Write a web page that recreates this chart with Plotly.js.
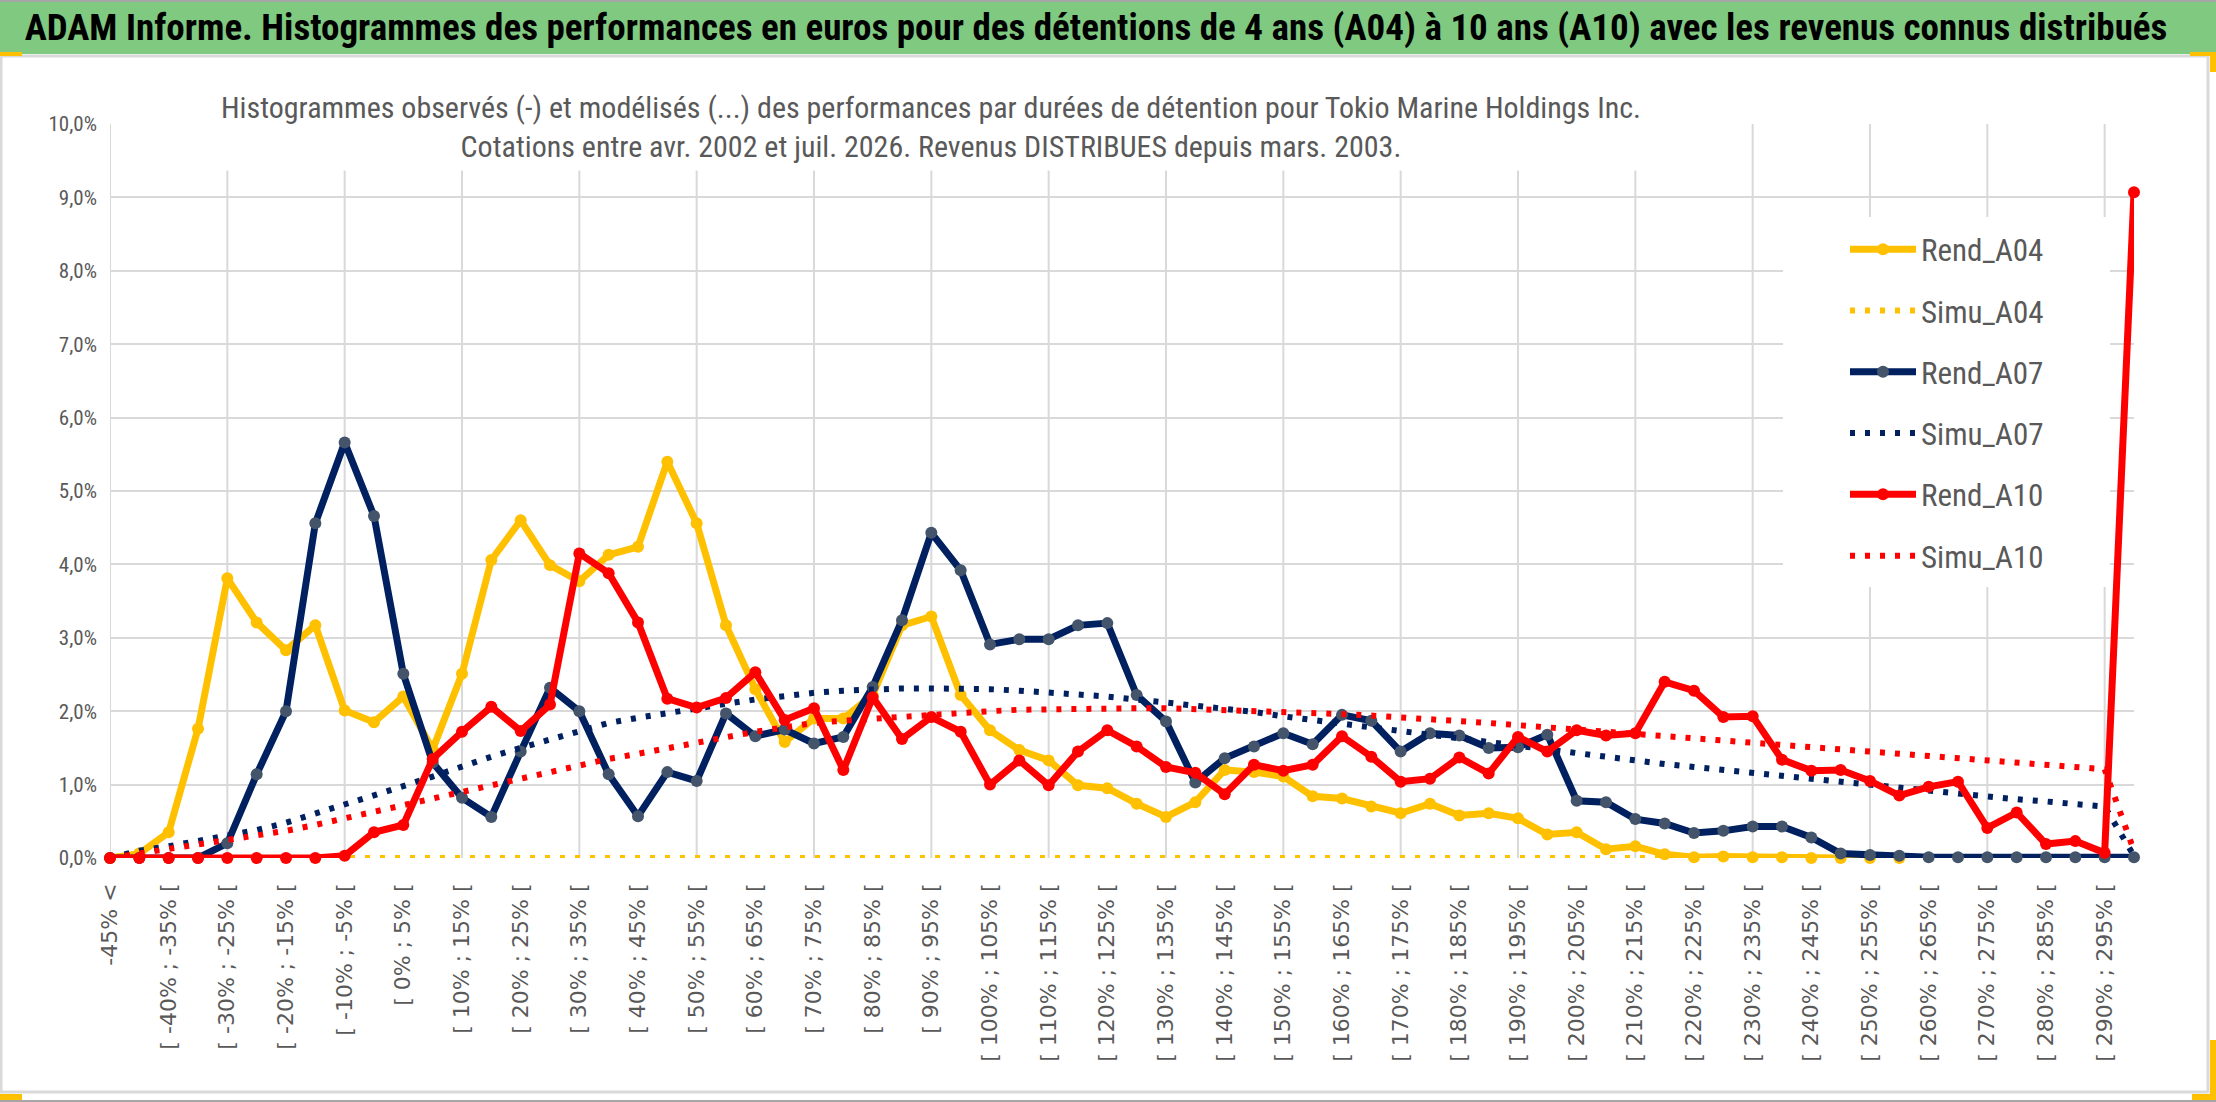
<!DOCTYPE html>
<html>
<head>
<meta charset="utf-8">
<script src="https://cdn.plot.ly/plotly-3.0.1.min.js"></script>
<style>
  html, body { margin: 0; padding: 0; background: #ffffff; }
</style>
</head>
<body>
<div id="plot"></div>
<script>
// Categories: performance bins (5% steps)
var categories = [
  "-45% <", "[ -45% ; -40% [", "[ -40% ; -35% [", "[ -35% ; -30% [", "[ -30% ; -25% [",
  "[ -25% ; -20% [", "[ -20% ; -15% [", "[ -15% ; -10% [", "[ -10% ; -5% [", "[ -5% ; 0% [",
  "[ 0% ; 5% [", "[ 5% ; 10% [", "[ 10% ; 15% [", "[ 15% ; 20% [", "[ 20% ; 25% [",
  "[ 25% ; 30% [", "[ 30% ; 35% [", "[ 35% ; 40% [", "[ 40% ; 45% [", "[ 45% ; 50% [",
  "[ 50% ; 55% [", "[ 55% ; 60% [", "[ 60% ; 65% [", "[ 65% ; 70% [", "[ 70% ; 75% [",
  "[ 75% ; 80% [", "[ 80% ; 85% [", "[ 85% ; 90% [", "[ 90% ; 95% [", "[ 95% ; 100% [",
  "[ 100% ; 105% [", "[ 105% ; 110% [", "[ 110% ; 115% [", "[ 115% ; 120% [", "[ 120% ; 125% [",
  "[ 125% ; 130% [", "[ 130% ; 135% [", "[ 135% ; 140% [", "[ 140% ; 145% [", "[ 145% ; 150% [",
  "[ 150% ; 155% [", "[ 155% ; 160% [", "[ 160% ; 165% [", "[ 165% ; 170% [", "[ 170% ; 175% [",
  "[ 175% ; 180% [", "[ 180% ; 185% [", "[ 185% ; 190% [", "[ 190% ; 195% [", "[ 195% ; 200% [",
  "[ 200% ; 205% [", "[ 205% ; 210% [", "[ 210% ; 215% [", "[ 215% ; 220% [", "[ 220% ; 225% [",
  "[ 225% ; 230% [", "[ 230% ; 235% [", "[ 235% ; 240% [", "[ 240% ; 245% [", "[ 245% ; 250% [",
  "[ 250% ; 255% [", "[ 255% ; 260% [", "[ 260% ; 265% [", "[ 265% ; 270% [", "[ 270% ; 275% [",
  "[ 275% ; 280% [", "[ 280% ; 285% [", "[ 285% ; 290% [", "[ 290% ; 295% [", "> 295%"
];

// Observed histograms (% of periods)
var rendA04 = [
  0, 0.06, 0.35, 1.76, 3.81, 3.21, 2.83, 3.17, 2.01, 1.85,
  2.2, 1.48, 2.51, 4.06, 4.6, 3.99, 3.77, 4.13, 4.24, 5.4,
  4.56, 3.17, 2.3, 1.58, 1.9, 1.9, 2.22, 3.17, 3.29, 2.22,
  1.74, 1.47, 1.33, 0.99, 0.95, 0.74, 0.56, 0.76, 1.2, 1.17,
  1.11, 0.84, 0.81, 0.7, 0.61, 0.74, 0.58, 0.61, 0.54, 0.32,
  0.35, 0.12, 0.16, 0.05, 0.01, 0.02, 0.01, 0.01, 0, 0,
  0, 0, null, null, null, null, null, null, null, null
];
var rendA07 = [
  0, 0, 0, 0, 0.2, 1.14, 2.0, 4.56, 5.66, 4.66,
  2.51, 1.3, 0.82, 0.56, 1.45, 2.32, 2.0, 1.14, 0.57, 1.17,
  1.05, 1.97, 1.66, 1.75, 1.56, 1.65, 2.33, 3.24, 4.43, 3.92,
  2.91, 2.98, 2.98, 3.17, 3.2, 2.22, 1.86, 1.03, 1.36, 1.52,
  1.7, 1.55, 1.95, 1.87, 1.45, 1.7, 1.67, 1.5, 1.51, 1.68,
  0.78, 0.76, 0.53, 0.47, 0.34, 0.37, 0.43, 0.43, 0.28, 0.06,
  0.04, 0.03, 0.01, 0.01, 0.01, 0.01, 0.01, 0.01, 0.01, 0.01
];
var rendA10 = [
  0, 0, 0, 0, 0, 0, 0, 0, 0.03, 0.35,
  0.45, 1.35, 1.72, 2.06, 1.73, 2.09, 4.15, 3.88, 3.21, 2.17,
  2.05, 2.18, 2.53, 1.88, 2.04, 1.2, 2.19, 1.62, 1.92, 1.72,
  1.0, 1.33, 0.99, 1.45, 1.74, 1.52, 1.24, 1.16, 0.87, 1.27,
  1.19, 1.27, 1.66, 1.38, 1.04, 1.08, 1.37, 1.15, 1.65, 1.45,
  1.74, 1.67, 1.7, 2.4, 2.28, 1.92, 1.93, 1.34, 1.19, 1.2,
  1.05, 0.85, 0.97, 1.04, 0.41, 0.62, 0.19, 0.23, 0.07, 9.07
];

// Modelled histograms (%)
var simuA04 = [
  0, 0, 0, 0, 0, 0, 0, 0, 0, 0,
  0, 0, 0, 0, 0, 0, 0, 0, 0, 0,
  0, 0, 0, 0, 0, 0, 0, 0, 0, 0,
  0, 0, 0, 0, 0, 0, 0, 0, 0, 0,
  0, 0, 0, 0, 0, 0, 0, 0, 0, 0,
  0, 0, 0, 0, 0, 0, 0, 0, 0, 0,
  0, 0, 0, 0, 0, 0, 0, 0, 0, 0
];
var simuA07 = [
  0, 0.1, 0.16, 0.23, 0.29, 0.38, 0.48, 0.6, 0.72, 0.85,
  0.98, 1.11, 1.25, 1.38, 1.5, 1.61, 1.73, 1.84, 1.91, 1.98,
  2.04, 2.1, 2.16, 2.21, 2.25, 2.28, 2.3, 2.31, 2.31, 2.31,
  2.3, 2.28, 2.26, 2.23, 2.2, 2.16, 2.12, 2.08, 2.04, 1.99,
  1.93, 1.88, 1.82, 1.77, 1.71, 1.66, 1.62, 1.56, 1.51, 1.46,
  1.42, 1.37, 1.32, 1.28, 1.24, 1.2, 1.15, 1.11, 1.06, 1.02,
  0.98, 0.95, 0.91, 0.87, 0.83, 0.8, 0.77, 0.73, 0.7, 0.03
];
var simuA10 = [
  0, 0.06, 0.13, 0.18, 0.25, 0.31, 0.37, 0.45, 0.54, 0.62,
  0.71, 0.81, 0.91, 0.99, 1.08, 1.17, 1.26, 1.35, 1.42, 1.5,
  1.58, 1.65, 1.72, 1.78, 1.84, 1.87, 1.9, 1.93, 1.95, 1.98,
  2.0, 2.02, 2.03, 2.04, 2.04, 2.04, 2.04, 2.03, 2.02, 2.01,
  2.0, 1.98, 1.96, 1.94, 1.92, 1.89, 1.86, 1.84, 1.81, 1.78,
  1.75, 1.72, 1.69, 1.66, 1.64, 1.61, 1.58, 1.55, 1.51, 1.48,
  1.44, 1.42, 1.39, 1.36, 1.33, 1.3, 1.27, 1.24, 1.21, 0.1
];

var W = 2216, H = 1102;
var M = { l: 110, r: 82, t: 124, b: 244 };
var NARROW = "'Liberation Sans Narrow', 'Arial Narrow', 'Roboto Condensed', 'DejaVu Sans Condensed', 'Liberation Sans', sans-serif";
var GREY = '#595959';
var GRID = '#d9d9d9';

// pixel -> paper coordinates
function px(x) { return (x - M.l) / (W - M.l - M.r); }
function py(y) { return (H - M.b - y) / (H - M.t - M.b); }

var DOTS = '5px,10px';

function observed(name, y, color, markerColor) {
  return {
    x: categories, y: y, name: name, legendgroup: name,
    type: 'scatter', mode: 'lines+markers', cliponaxis: false,
    line: { color: color, width: 7 },
    marker: { color: markerColor, size: 12 }
  };
}
function modelled(name, y, color) {
  return {
    x: categories, y: y, name: name, legendgroup: name,
    type: 'scatter', mode: 'lines', cliponaxis: false,
    line: { color: color, width: 6, dash: DOTS }
  };
}

var traces = [
  observed('Rend_A04', rendA04, '#FFC000', '#FFC000'),
  modelled('Simu_A04', simuA04, '#FFC000'),
  observed('Rend_A07', rendA07, '#002060', '#44546A'),
  modelled('Simu_A07', simuA07, '#002060'),
  observed('Rend_A10', rendA10, '#FF0000', '#FF0000'),
  modelled('Simu_A10', simuA10, '#FF0000')
];

// vertical gridlines every 4 categories
var shapes = [];
for (var i = 0; i < categories.length; i += 4) {
  shapes.push({
    type: 'line', layer: 'below', xref: 'x', yref: 'paper',
    x0: categories[i], x1: categories[i], y0: 0, y1: 1,
    line: { color: GRID, width: 2 }
  });
}
// green title band and chart frame
shapes.push({ type: 'rect', layer: 'below', xref: 'paper', yref: 'paper',
  x0: px(0), x1: px(W), y0: py(54), y1: py(0), fillcolor: '#80C980', line: { width: 0 } });
shapes.push({ type: 'rect', layer: 'below', xref: 'paper', yref: 'paper',
  x0: px(1), x1: px(2208), y0: py(1092), y1: py(56), line: { color: GRID, width: 3 } });
shapes.push({ type: 'line', layer: 'below', xref: 'paper', yref: 'paper',
  x0: px(0), x1: px(W), y0: py(1101), y1: py(1101), line: { color: '#a6a6a6', width: 2 } });
shapes.push({ type: 'line', layer: 'below', xref: 'paper', yref: 'paper',
  x0: px(0), x1: px(W), y0: py(1), y1: py(1), line: { color: '#a6a6a6', width: 2 } });
// white legend area (hides gridlines behind the legend)
shapes.push({ type: 'rect', layer: 'above', xref: 'paper', yref: 'paper',
  x0: px(1783), x1: px(2110), y0: py(587), y1: py(217),
  fillcolor: '#ffffff', line: { width: 0 } });
// selection handles
var handles = [[0, 52, 22, 56], [2190, 52, 2216, 56], [2210, 52, 2216, 72],
               [0, 1094, 22, 1100], [2192, 1094, 2216, 1100], [2210, 1040, 2216, 1100]];
handles.forEach(function (h) {
  shapes.push({ type: 'rect', layer: 'above', xref: 'paper', yref: 'paper',
    x0: px(h[0]), x1: px(h[2]), y0: py(h[3]), y1: py(h[1]),
    fillcolor: '#FFC000', line: { width: 0 } });
});

var layout = {
  width: W, height: H,
  margin: M,
  paper_bgcolor: '#ffffff',
  plot_bgcolor: '#ffffff',
  separators: ', ',
  showlegend: true,
  title: {
    text: 'ADAM Informe. Histogrammes des performances en euros pour des détentions de 4 ans (A04) à 10 ans (A10) avec les revenus connus distribués',
    font: { family: NARROW, size: 37, color: '#000000', weight: 'bold' },
    x: 1096 / W, xref: 'container', xanchor: 'center',
    y: 1 - 27 / H, yref: 'container', yanchor: 'middle'
  },
  xaxis: {
    type: 'category',
    categoryorder: 'array', categoryarray: categories,
    range: [0, categories.length - 1],
    tickmode: 'linear', tick0: 0, dtick: 2,
    tickangle: -90,
    tickfont: { family: 'DejaVu Sans, sans-serif', size: 22, color: GREY },
    ticklabelstandoff: 20,
    showgrid: false, zeroline: false, showline: false, ticks: '',
    automargin: false
  },
  yaxis: {
    range: [0, 10], dtick: 1,
    tickformat: '.1f', ticksuffix: '%',
    tickfont: { family: NARROW, size: 21, color: GREY },
    ticklabelstandoff: 12,
    showgrid: true, gridcolor: GRID, gridwidth: 2,
    zeroline: false, showline: false, ticks: '',
    automargin: false
  },
  legend: {
    x: px(1845), y: py(222.5), xanchor: 'left', yanchor: 'top',
    xref: 'paper', yref: 'paper',
    bgcolor: '#ffffff',
    itemwidth: 66,
    font: { family: NARROW, size: 31, color: GREY },
    traceorder: 'grouped', tracegroupgap: 18
  },
  annotations: [{
    xref: 'paper', yref: 'paper',
    x: px(931), y: py(127), xanchor: 'center', yanchor: 'middle',
    text: 'Histogrammes observés (-) et modélisés (...) des performances par durées de détention pour Tokio Marine Holdings Inc.<br>Cotations entre avr. 2002 et juil. 2026. Revenus DISTRIBUES depuis mars. 2003.',
    showarrow: false, align: 'center',
    bgcolor: '#ffffff', borderpad: 6,
    font: { family: NARROW, size: 30, color: GREY }
  }],
  shapes: shapes
};

Plotly.newPlot('plot', traces, layout, { displayModeBar: false, staticPlot: true });
</script>
</body>
</html>
